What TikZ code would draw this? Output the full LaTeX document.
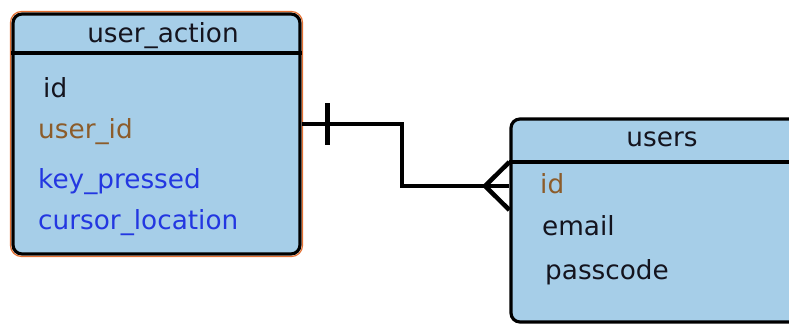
\documentclass[tikz,border=0pt]{standalone}
\usepackage{fontspec}
\setmainfont{DejaVu Sans}
\usetikzlibrary{calc}
\definecolor{boxfill}{RGB}{166,206,232}
\definecolor{pkbrown}{RGB}{140,92,42}
\definecolor{fieldblue}{RGB}{35,55,225}
\definecolor{edgeorange}{RGB}{228,112,50}
\definecolor{txt}{RGB}{20,20,30}
\begin{document}
\begin{tikzpicture}[x=1pt,y=-1pt,
  table/.style={draw=black,line width=3.2pt,fill=boxfill,rounded corners=9pt,inner sep=0pt},
  field/.style={anchor=base west,inner sep=0pt,font=\fontsize{26.3}{30}\selectfont,text=txt},
  title/.style={anchor=base,inner sep=0pt,font=\fontsize{26.3}{30}\selectfont,text=txt},
  rel/.style={line width=4.5pt,draw=black}]
\clip (0,0) rectangle (789,329);
\useasboundingbox (0,0) rectangle (789,329);
% left table
\node[table,minimum width=287pt,minimum height=240pt] (ua) at (156.5,134) {};
\draw[edgeorange,line width=1.2pt,rounded corners=11pt] (10.5,11.5) rectangle (302.5,256.5);
\draw[line width=3.8pt] (ua.west |- 0,53) -- (ua.east |- 0,53);
\node[title] (uat) at (163,43) {user\_action};
\node[field] (f1) at (43,97) {id};
\node[field,text=pkbrown] (f2) at (38,138) {user\_id};
\node[field,text=fieldblue] (f3) at (38,188) {key\_pressed};
\node[field,text=fieldblue] (f4) at (38,229) {cursor\_location};
% right table
\node[table,minimum width=289pt,minimum height=203pt] (users) at (655.5,220.5) {};
\draw[line width=3.8pt] (users.west |- 0,162) -- (users.east |- 0,162);
\node[title] (ust) at (662,146) {users};
\node[field,text=pkbrown] (g1) at (540,193) {id};
\node[field] (g2) at (542,235) {email};
\node[field] (g3) at (545,279) {passcode};
% relationship
\coordinate (c1) at (ua.east |- 0,124);
\coordinate (c2) at (users.west |- 0,186);
\coordinate (apex) at (485,186);
\draw[rel] (c1) -- (402,124) |- (c2);
\draw[rel] ($(c1)+(26,-21)$) -- ($(c1)+(26,21)$);
\draw[rel] (users.west |- 0,162) -- (apex) -- (users.west |- 0,210);
\end{tikzpicture}
\end{document}
